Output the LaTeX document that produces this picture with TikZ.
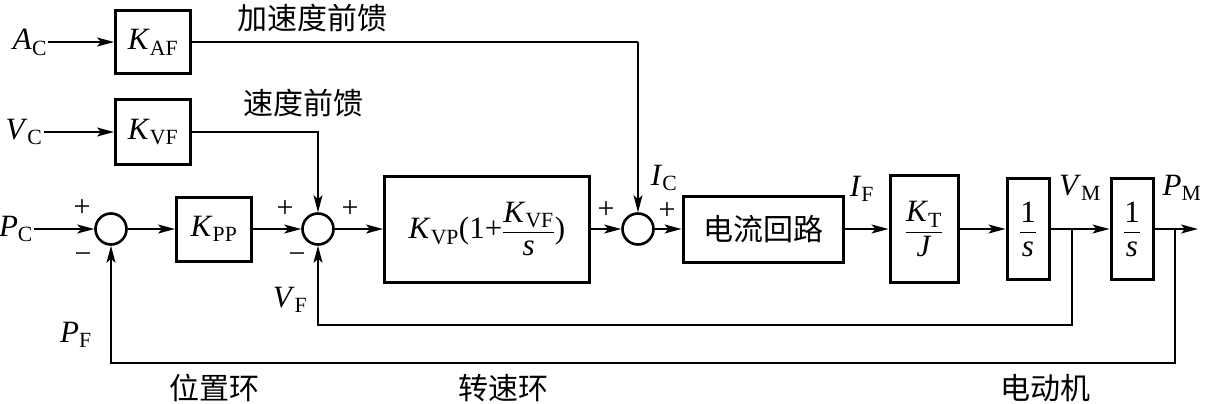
\documentclass[tikz,border=0pt]{standalone}
\usepackage{amsmath}
\usepackage{fontspec}
\setmainfont{Liberation Serif}
\newfontfamily\cjk{Noto Sans CJK SC}
\usetikzlibrary{arrows.meta, positioning, calc}
\newcommand{\sig}[2]{\textit{#1}\textsubscript{#2}}

\begin{document}
\begin{tikzpicture}[x=1pt, y=-1pt,
  blk/.style={draw, line width=3pt, inner sep=0pt, font=\fontsize{31}{34}\selectfont},
  sumnode/.style={circle, draw, line width=2.6pt, minimum size=31pt, inner sep=0pt},
  lbl/.style={font=\fontsize{31}{34}\selectfont, inner sep=1pt},
  sgn/.style={font=\fontsize{30}{32}\selectfont, inner sep=0pt},
  cjklbl/.style={font=\cjk\fontsize{30}{32}\selectfont, inner sep=0pt},
  arr/.style={-{Stealth[length=17pt, width=9pt, inset=4pt]}, line width=2pt},
  thinarr/.style={arr, line width=1.2pt}
]
\useasboundingbox (0,0) rectangle (1210,404);

\node[blk, minimum width=75pt, minimum height=63pt] (kaf) at (153,42) {\sig{K}{AF}};
\node[blk, minimum width=75pt, minimum height=65pt] (kvf) at (153,132) {\sig{K}{VF}};
\node[blk, minimum width=75pt, minimum height=64pt] (kpp) at (214,229) {\sig{K}{PP}};
\node[blk, minimum width=205pt, minimum height=106pt] (kvp) at (487,229)
  {\sig{K}{VP}(1+$\dfrac{\mbox{\sig{K}{VF}}}{\mbox{\textit{s}}}$)};
\node[blk, minimum width=160pt, minimum height=66pt, font=\cjk\fontsize{30}{32}\selectfont] (cur) at (763,229) {电流回路};
\node[blk, minimum width=68pt, minimum height=107pt] (ktj) at (924,229)
  {$\dfrac{\mbox{\sig{K}{T}}}{\mbox{\textit{J}}}$};
\node[blk, minimum width=42pt, minimum height=101pt] (int1) at (1028,229) {$\dfrac{\mbox{1}}{\mbox{\textit{s}}}$};
\node[blk, minimum width=42pt, minimum height=101pt] (int2) at (1132,229) {$\dfrac{\mbox{1}}{\mbox{\textit{s}}}$};

\node[sumnode] (s1) at (111,229) {};
\node[sumnode] (s2) at (318,229) {};
\node[sumnode] (s3) at (638,229) {};

\node[lbl] (ac) at (30,42) {\sig{A}{C}};
\node[lbl] (vc) at (24,132) {\sig{V}{C}};
\node[lbl] (pc) at (16,229) {\sig{P}{C}};
\node[lbl] (pf) at (76,335) {\sig{P}{F}};
\node[lbl] (vf) at (290,300) {\sig{V}{F}};
\node[lbl] (ic) at (664,178) {\sig{I}{C}};
\node[lbl] (if) at (862,189) {\sig{I}{F}};
\node[lbl] (vm) at (1080,188) {\sig{V}{M}};
\node[lbl] (pm) at (1182,188) {\sig{P}{M}};

\node[cjklbl] (aff) at (312,18) {加速度前馈};
\node[cjklbl] (vff) at (303,103) {速度前馈};
\node[cjklbl] (posloop) at (214,388) {位置环};
\node[cjklbl] (spdloop) at (503,388) {转速环};
\node[cjklbl] (motor) at (1045,388) {电动机};

\foreach \x/\y in {82/208, 285/209, 350/209, 606/210, 667/211}{
  \node[sgn] at (\x,\y) {+};
}
\foreach \x/\y in {83/258, 297/258}{
  \node[sgn] at (\x,\y) {−};
}

\coordinate (b1) at (1072,229);
\coordinate (b2) at (1175,229);
\coordinate (out) at (1198,229);

\draw[arr] (ac) -- (kaf);
\draw[arr] (vc) -- (kvf);
\draw[arr] (pc) -- (s1);
\draw[arr] (s1) -- (kpp);
\draw[arr] (kpp) -- (s2);
\draw[arr] (s2) -- (kvp);
\draw[arr] (kvp) -- (s3);
\draw[arr] (s3) -- (cur);
\draw[arr] (cur) -- (ktj);
\draw[arr] (ktj) -- (int1);
\draw[arr] (int1) -- (int2);
\draw[arr] (int2) -- (out);

\draw[line width=2pt] (kaf.east) -- (s3 |- kaf.east);
\draw[thinarr] (s3 |- kaf.east) -- (s3.north);
\draw[thinarr] (kvf.east) -| (s2.north);
\draw[thinarr] (b1) -- ++(0,96) -| (s2.south);
\draw[arr] (b2) -- ++(0,134) -| (s1.south);
\end{tikzpicture}
\end{document}
